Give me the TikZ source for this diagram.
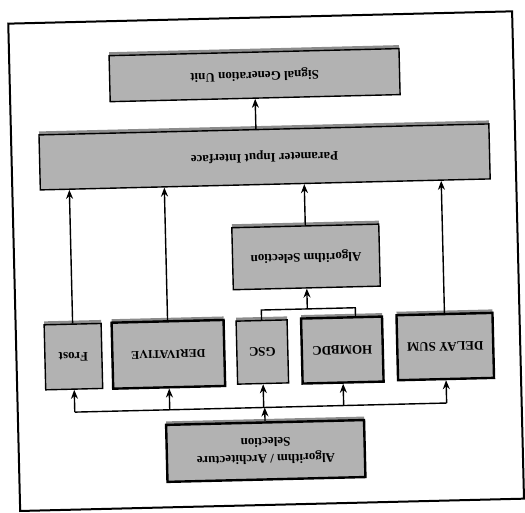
\documentclass[tikz,border=0pt]{standalone}
\usepackage{fontspec}
\setmainfont{Liberation Serif}
\usetikzlibrary{arrows.meta,shadows}

\begin{document}
\begin{tikzpicture}[x=1pt,y=1pt,
          blockbox/.style={rectangle, draw=black, line width=1.4pt, fill=black!30,
            font=\fontsize{13}{17}\selectfont\bfseries, align=center, inner sep=0pt,
            drop shadow={shadow xshift=0pt, shadow yshift=3.5pt, fill=black!45, opacity=1}},
          heavybox/.style={blockbox, line width=2.4pt},
          >={Stealth[length=9pt,width=7pt]}]

        \useasboundingbox (0,0) rectangle (525,512);
        \begin{scope}[rotate around={181.4:(262.5,256)}, transform shape, line width=1.4pt]

        \draw[line width=2pt] (7,17.5) rectangle (511,505);

        \node[heavybox, minimum width=198pt, minimum height=57pt] (aas) at (264,451) {Algorithm / Architecture\\Selection};

        \node[blockbox, minimum width=57pt, minimum height=65pt]  (frost)  at (454,352) {Frost};
        \node[heavybox, minimum width=112pt, minimum height=66pt,
              font=\fontsize{12}{15}\selectfont\bfseries]         (deriv)  at (359,352) {DERIVATIVE};
        \node[blockbox, minimum width=51pt, minimum height=63pt]  (gsc)    at (265,352) {GSC};
        \node[heavybox, minimum width=81pt, minimum height=65pt]  (hombdc) at (185,352) {HOMBDC};
        \node[heavybox, minimum width=96pt, minimum height=65pt]  (delay)  at (82,351)  {DELAY SUM};

        \node[blockbox, minimum width=147pt, minimum height=62pt] (algsel) at (219,258) {Algorithm Selection};
        \node[blockbox, minimum width=450pt, minimum height=55pt] (param)  at (258,157) {Parameter Input Interface};
        \node[blockbox, minimum width=290pt, minimum height=46pt] (signal) at (266,75)  {Signal Generation Unit};

        % selection bus
        \coordinate (bus)  at (264,407.5);
        \coordinate (fork) at (219,310);

        \draw[->] (aas.south) -- (bus);
        \draw (frost.north |- bus) -- (delay.north |- bus);
        \foreach \n in {frost,deriv,gsc,hombdc,delay}
          \draw[->] (\n.north |- bus) -- (\n.north);

        \draw (gsc.south) -- (gsc.south |- fork) -| ([xshift=-14pt]hombdc.south);
        \draw[->] (fork) -- (algsel.north);

        \foreach \n in {frost,deriv,algsel,delay}
          \draw[->] (\n.south) -- (\n.south |- param.north);

        \draw[->] (param.south -| signal.north) -- (signal.north);

        \end{scope}
      \end{tikzpicture}
\end{document}
